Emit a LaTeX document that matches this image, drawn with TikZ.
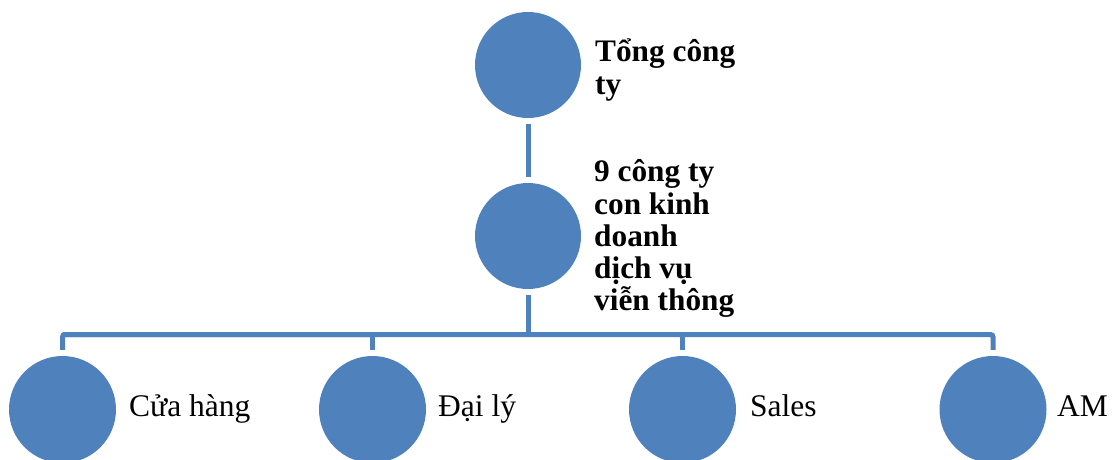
\documentclass[tikz,border=0pt]{standalone}
\usepackage{fontspec}
\setmainfont{Liberation Serif}
\definecolor{smblue}{HTML}{4F81BD}
\newcommand{\stacklines}[1]{\vtop{#1}}
\begin{document}
\begin{tikzpicture}[x=1pt,y=-1pt,
  dot/.style={circle,fill=smblue,draw=none,inner sep=0pt,minimum size=106pt},
  link/.style={draw=smblue,line width=5pt},
  boldlabel/.style={anchor=base west,inner sep=0pt,font=\fontsize{31.3}{32.3}\selectfont\bfseries},
  plainlabel/.style={anchor=base west,inner sep=0pt,font=\fontsize{31.5}{34}\selectfont}]
\useasboundingbox (0,0) rectangle (1112,459);
% circles
\node[dot] (c0) at (528,65) {};
\node[dot] (c1) at (528,236) {};
\node[dot,minimum size=107pt] (b1) at (62.5,409.5) {};
\node[dot,minimum size=107pt] (b2) at (372.5,409.5) {};
\node[dot,minimum size=107pt] (b3) at (682.5,409.5) {};
\node[dot,minimum size=107pt] (b4) at (993,409.5) {};
% labels
\node[boldlabel] (t0) at (595,61.7) {\stacklines{\hbox{Tổng công}\hbox{ty}}};
\node[boldlabel] (t1) at (594,181.7) {\stacklines{\hbox{9 công ty}\hbox{con kinh}\hbox{doanh}\hbox{dịch vụ}\hbox{viễn thông}}};
\node[plainlabel] (l1) at (129,416.7) {Cửa hàng};
\node[plainlabel] (l2) at (438,416.7) {Đại lý};
\node[plainlabel] (l3) at (750,416.7) {Sales};
\node[plainlabel] (l4) at (1057,416.7) {AM};
% connectors
\coordinate (j) at (528,334.5);
\draw[link,shorten <=6pt,shorten >=6pt] (c0.south) -- (c1.north);
\draw[link,shorten <=6pt] (c1.south) -- (j);
\draw[link,rounded corners=2.5pt,shorten <=0pt,shorten >=6pt] (b1.north |- j) -- (b4.north |- j) -- (b4.north);
\draw[link,rounded corners=2.5pt,shorten >=6pt] (b2.north |- j) -- (b1.north |- j) -- (b1.north);
\draw[link,shorten >=6pt] (b2.north |- j) -- (b2.north);
\draw[link,shorten >=6pt] (b3.north |- j) -- (b3.north);
\end{tikzpicture}
\end{document}
